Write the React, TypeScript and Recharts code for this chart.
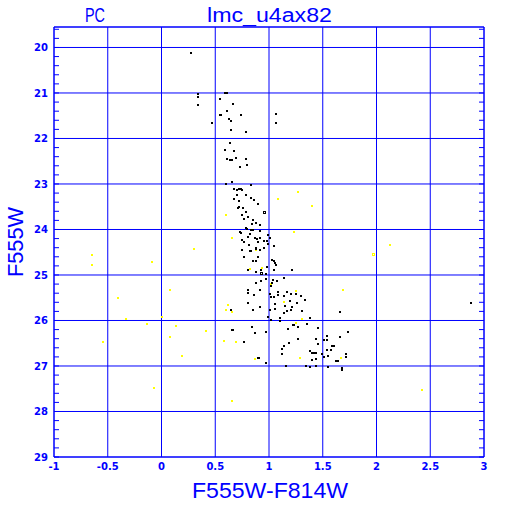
import React from 'react';
import { ScatterChart, Scatter, XAxis, YAxis, CartesianGrid } from 'recharts';

const BLUE = '#0000ff';
const YELLOW = '#ffff00';

const xMajorTicks = [-1, -0.5, 0, 0.5, 1, 1.5, 2, 2.5, 3];
const yMajorTicks = [20, 21, 22, 23, 24, 25, 26, 27, 28, 29];
const xMinorTicks = Array.from({ length: 41 }, (_, i) => Math.round((-1 + i * 0.1) * 10) / 10);
const yMinorTicks = Array.from({ length: 48 }, (_, i) => Math.round((19.6 + i * 0.2) * 10) / 10);

const blackStars: [number, number][] = [
  [0.27, 20.12],
  [0.343, 21.02], [0.343, 21.08], [0.343, 21.26],
  [0.59, 21.0], [0.61, 21.0], [0.548, 21.13], [0.669, 21.24], [0.607, 21.39],
  [0.54, 21.48], [0.55, 21.48], [0.743, 21.48], [0.632, 21.57], [0.65, 21.61],
  [0.473, 21.66], [0.65, 21.81], [0.784, 21.85], [1.069, 21.46], [1.069, 21.66],
  [0.641, 22.1], [0.594, 22.25], [0.678, 22.27], [0.613, 22.45], [0.641, 22.47],
  [0.66, 22.48], [0.697, 22.43], [0.784, 22.45], [0.734, 22.62], [0.799, 22.58],
  [0.597, 23.0], [0.653, 22.96], [0.678, 23.11], [0.702, 23.14], [0.702, 23.24],
  [0.721, 23.11], [0.74, 23.11], [0.746, 23.14], [0.678, 23.33], [0.721, 23.37],
  [0.721, 23.5], [0.715, 23.52], [0.758, 23.52], [0.79, 23.24], [0.833, 23.3],
  [0.864, 23.36], [0.895, 23.44], [0.833, 23.02], [0.79, 23.62], [0.746, 23.69],
  [0.808, 23.72], [0.771, 23.77], [0.851, 23.8], [0.846, 23.87], [0.883, 23.85],
  [0.913, 23.91], [0.784, 23.97], [0.795, 23.99], [0.833, 24.02], [0.851, 24.02],
  [0.734, 24.06], [0.74, 24.08], [0.82, 24.09], [0.913, 24.04], [0.994, 24.12],
  [1.007, 24.18], [0.808, 24.16], [0.87, 24.19], [0.888, 24.21], [0.92, 24.19],
  [0.753, 24.24], [0.765, 24.28], [0.814, 24.34], [0.895, 24.28], [0.951, 24.26],
  [0.981, 24.26], [0.988, 24.32], [1.05, 24.37], [0.876, 24.4], [0.883, 24.43],
  [0.753, 24.45], [0.82, 24.47], [0.833, 24.47], [0.913, 24.45], [0.957, 24.41],
  [0.901, 24.6], [0.771, 24.6], [0.851, 24.7], [0.883, 24.7], [1.025, 24.66],
  [1.044, 24.7], [1.056, 24.73], [1.069, 24.78], [0.802, 24.88], [0.876, 24.94],
  [0.926, 24.88], [0.981, 24.82], [1.05, 24.89], [0.969, 24.97], [1.211, 24.89],
  [0.883, 25.17], [0.926, 25.13], [0.976, 25.09], [1.037, 25.1], [1.074, 25.13],
  [1.025, 25.17], [1.143, 25.07], [1.019, 25.25],
  [0.803, 25.33], [0.803, 25.4], [0.858, 25.44], [0.92, 25.33], [1.007, 25.42],
  [1.019, 25.49], [1.05, 25.48], [1.087, 25.38], [1.087, 25.45], [1.137, 25.47],
  [1.167, 25.38], [1.205, 25.42], [1.248, 25.41], [1.295, 25.47], [1.332, 25.55],
  [0.803, 25.61], [0.92, 25.7], [0.848, 25.77], [1.013, 25.77], [1.056, 25.63],
  [1.06, 25.74], [1.146, 25.68], [1.137, 25.83], [1.167, 25.8], [1.193, 25.57],
  [1.208, 25.77], [1.218, 25.7], [1.261, 25.61], [1.304, 25.8],
  [0.65, 25.77], [0.988, 25.93], [1.019, 25.99], [1.106, 25.95], [1.106, 26.01],
  [1.223, 26.11], [1.236, 26.1], [1.267, 26.15], [1.174, 26.18], [1.353, 26.08],
  [1.379, 25.95], [1.46, 26.17], [1.664, 25.82],
  [0.655, 26.21], [0.665, 26.21], [0.839, 26.14], [0.873, 26.27], [0.969, 26.25],
  [0.771, 26.48], [1.183, 26.49], [1.267, 26.4], [1.434, 26.41], [1.46, 26.51],
  [1.515, 26.43], [1.54, 26.43], [1.54, 26.35], [1.664, 26.36], [1.739, 26.26],
  [1.137, 26.56], [1.118, 26.62], [1.125, 26.74], [1.379, 26.67], [1.397, 26.71],
  [1.416, 26.71], [1.44, 26.71], [1.493, 26.74], [1.583, 26.56], [1.602, 26.56],
  [1.577, 26.65], [1.54, 26.65], [1.553, 26.77], [1.515, 26.81], [1.713, 26.74],
  [1.72, 26.81],
  [0.895, 26.82], [0.905, 26.82], [0.969, 26.93], [1.397, 26.87], [1.434, 26.84],
  [1.627, 26.9], [1.64, 26.9], [1.162, 27.0], [1.348, 26.99], [1.385, 27.02],
  [1.434, 27.0], [1.546, 27.03], [1.676, 27.04], [1.676, 27.08],
  [2.883, 25.61],
];

const blackOpen: [number, number][] = [
  [0.963, 23.63], [0.932, 24.97],
];

const yellowStars: [number, number][] = [
  [0.597, 23.68], [0.659, 24.19], [0.3, 24.43], [-0.091, 24.72], [-0.643, 24.56],
  [-0.643, 24.78], [-0.401, 25.51], [-0.333, 25.97], [-0.131, 26.08], [-0.54, 26.48],
  [-0.07, 27.48], [0.083, 25.33], [0.622, 25.65], [0.6, 25.77], [0.653, 25.81],
  [0.008, 25.92], [0.132, 26.13], [0.083, 26.36], [0.417, 26.23], [0.579, 26.45],
  [0.693, 26.48], [0.188, 26.77], [0.87, 26.84], [0.659, 27.77],
  [1.273, 23.18], [1.08, 23.33], [1.397, 23.49], [1.23, 24.06], [0.876, 24.45],
  [0.931, 24.84], [0.822, 24.87], [1.022, 25.2], [1.248, 25.35], [1.137, 25.6],
  [1.248, 26.05], [1.31, 25.96], [1.286, 26.83], [1.67, 26.83], [1.69, 25.33],
  [2.129, 24.34], [2.427, 27.52],
];

const yellowOpen: [number, number][] = [
  [1.974, 24.57],
];

const toPts = (arr: [number, number][]) => arr.map(([x, y]) => ({ x, y }));

const filled = (color: string) => (props: any) => {
  const { cx, cy } = props;
  if (cx == null || cy == null) return <g />;
  return <rect x={Math.round(cx) - 1} y={Math.round(cy) - 1} width={2} height={2} fill={color} />;
};

const hollow = (color: string) => (props: any) => {
  const { cx, cy } = props;
  if (cx == null || cy == null) return <g />;
  return (
    <rect x={Math.round(cx) - 1.5} y={Math.round(cy) - 1.5} width={2} height={2}
      fill="none" stroke={color} strokeWidth={1} />
  );
};

const noLabel = () => <g />;

const tickFont = { fill: BLUE, fontSize: 10, fontWeight: 'bold', fontFamily: 'DejaVu Sans' } as any;

export default function App() {
  return (
    <div style={{ position: 'absolute', left: 0, top: 0, width: 512, height: 512, background: '#fff' }}>
      <ScatterChart width={512} height={512} margin={{ top: 27, right: 28, left: 0, bottom: 0 }}>
        <CartesianGrid stroke={BLUE} strokeWidth={1} fill="none" />
        <XAxis type="number" dataKey="x" domain={[-1, 3]} allowDataOverflow ticks={xMajorTicks} interval={0}
          height={55} tickLine={false} tickSize={4} tickMargin={2} tick={tickFont}
          axisLine={{ stroke: BLUE }} />
        <YAxis type="number" dataKey="y" domain={[19.55, 29]} allowDataOverflow reversed ticks={yMajorTicks}
          interval={0} width={54} tickLine={false} tickSize={4} tickMargin={2} tick={tickFont}
          axisLine={{ stroke: BLUE }} />
        <XAxis xAxisId="top" orientation="top" mirror type="number" domain={[-1, 3]} allowDataOverflow
          ticks={xMinorTicks} interval={0} tick={noLabel} tickSize={5} tickLine={{ stroke: BLUE }}
          axisLine={{ stroke: BLUE }} />
        <XAxis xAxisId="bmin" orientation="bottom" mirror type="number" domain={[-1, 3]} allowDataOverflow
          ticks={xMinorTicks} interval={0} tick={noLabel} tickSize={5} tickLine={{ stroke: BLUE }}
          axisLine={false} />
        <YAxis yAxisId="right" orientation="right" mirror type="number" domain={[19.55, 29]} reversed
          allowDataOverflow ticks={yMinorTicks} interval={0} tick={noLabel} tickSize={5}
          tickLine={{ stroke: BLUE }} axisLine={{ stroke: BLUE }} />
        <YAxis yAxisId="lmin" orientation="left" mirror type="number" domain={[19.55, 29]} reversed
          allowDataOverflow ticks={yMinorTicks} interval={0} tick={noLabel} tickSize={5}
          tickLine={{ stroke: BLUE }} axisLine={false} />
        <Scatter data={toPts(yellowStars)} fill={YELLOW} shape={filled(YELLOW)} isAnimationActive={false} />
        <Scatter data={toPts(yellowOpen)} fill={YELLOW} shape={hollow(YELLOW)} isAnimationActive={false} />
        <Scatter data={toPts(blackStars)} fill="#000" shape={filled('#000')} isAnimationActive={false} />
        <Scatter data={toPts(blackOpen)} fill="#000" shape={hollow('#000')} isAnimationActive={false} />
      </ScatterChart>
      <svg width={512} height={512} style={{ position: 'absolute', left: 0, top: 0, pointerEvents: 'none' }}>
        <text x={95} y={22} fill={BLUE} fontSize={20} fontFamily="Liberation Sans" textAnchor="middle"
          textLength={20} lengthAdjust="spacingAndGlyphs">PC</text>
        <text x={269.5} y={22} fill={BLUE} fontSize={20} fontFamily="Liberation Sans" textAnchor="middle"
          textLength={125} lengthAdjust="spacingAndGlyphs">lmc_u4ax82</text>
        <text x={270} y={498} fill={BLUE} fontSize={22} fontFamily="Liberation Sans" textAnchor="middle"
          textLength={156} lengthAdjust="spacingAndGlyphs">F555W-F814W</text>
        <text transform="translate(23,242) rotate(-90)" x={0} y={0} fill={BLUE} fontSize={22}
          fontFamily="Liberation Sans" textAnchor="middle" textLength={70}
          lengthAdjust="spacingAndGlyphs">F555W</text>
      </svg>
    </div>
  );
}
